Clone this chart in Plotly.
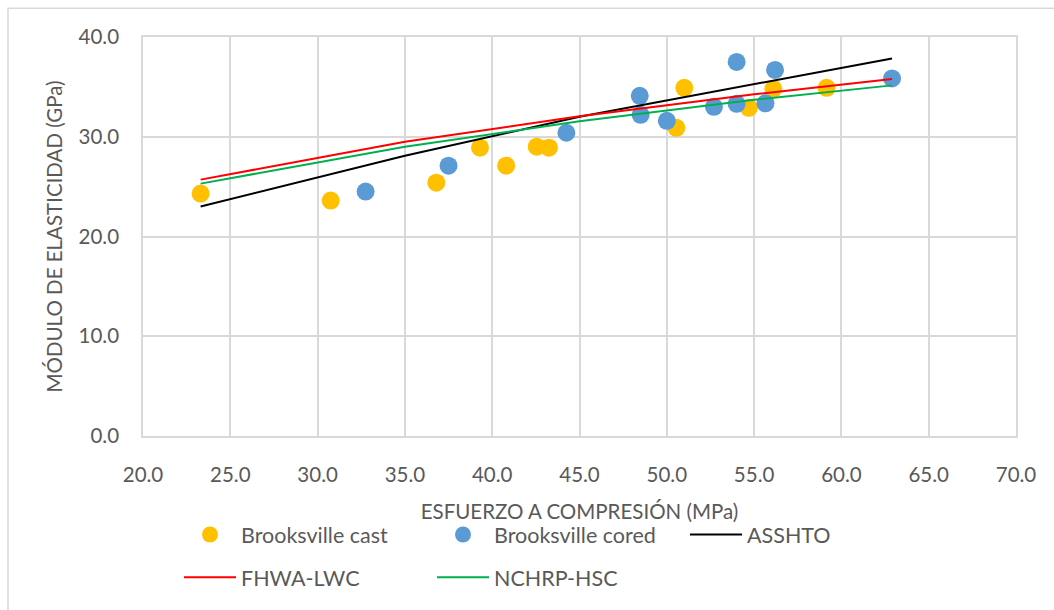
import plotly.graph_objects as go

# Measured points: compressive strength (MPa) vs modulus of elasticity (GPa)
cast_fc = [23.3, 30.75, 36.8, 39.3, 40.8, 42.55, 43.25, 50.55, 51.0, 54.7, 56.1, 59.15]
cast_ec = [24.3, 23.6, 25.4, 28.9, 27.1, 29.0, 28.9, 30.9, 34.9, 32.9, 34.8, 34.9]

cored_fc = [32.75, 37.5, 44.25, 48.45, 48.5, 50.0, 52.7, 54.0, 54.0, 55.65, 56.2, 62.9]
cored_ec = [24.5, 27.1, 30.4, 34.1, 32.2, 31.6, 33.0, 37.5, 33.3, 33.35, 36.7, 35.85]

# Prediction curves
model_fc = [23.3, 35.0, 45.0, 55.0, 62.9]
asshto_ec = [23.0, 28.1, 32.0, 35.3, 37.85]
fhwa_ec = [25.7, 29.5, 32.05, 34.25, 35.8]
nchrp_ec = [25.3, 29.0, 31.55, 33.7, 35.15]

x_ticks = [20, 25, 30, 35, 40, 45, 50, 55, 60, 65, 70]
y_ticks = [0, 10, 20, 30, 40]

FONT = "Lato"
TXT = "#595959"
GRID = "#D9D9D9"

fig = go.Figure()

fig.add_trace(go.Scatter(
    x=cast_fc, y=cast_ec, mode="markers", name="Brooksville cast",
    marker=dict(size=18, color="#FFC000", line=dict(width=0)),
    legend="legend",
))
fig.add_trace(go.Scatter(
    x=cored_fc, y=cored_ec, mode="markers", name="Brooksville cored",
    marker=dict(size=18, color="#5B9BD5", line=dict(width=0)),
    legend="legend",
))
fig.add_trace(go.Scatter(
    x=model_fc, y=asshto_ec, mode="lines", name="ASSHTO",
    line=dict(color="#000000", width=2), legend="legend",
))
fig.add_trace(go.Scatter(
    x=model_fc, y=fhwa_ec, mode="lines", name="FHWA-LWC",
    line=dict(color="#FF0000", width=2), legend="legend2",
))
fig.add_trace(go.Scatter(
    x=model_fc, y=nchrp_ec, mode="lines", name="NCHRP-HSC",
    line=dict(color="#00B050", width=2), legend="legend2",
))

L, R, T, B = 143, 38, 37, 172
W, H = 1054, 610
pw, ph = W - L - R, H - T - B


def px_x(p):
    return (p - L) / pw


def px_y(p):
    return (H - B - p) / ph


legend_common = dict(
    orientation="h", xanchor="left", yanchor="middle",
    font=dict(family=FONT, size=21.5, color=TXT),
    bgcolor="rgba(0,0,0,0)", itemwidth=52,
    entrywidth=186, entrywidthmode="pixels",
)

fig.update_layout(
    width=W, height=H,
    margin=dict(l=L, r=R, t=T, b=B),
    paper_bgcolor="white", plot_bgcolor="white",
    font=dict(family=FONT, size=20, color=TXT),
    legend=dict(x=px_x(179), y=px_y(537), **legend_common),
    legend2=dict(x=px_x(179), y=px_y(580), **legend_common),
    xaxis=dict(
        range=[20, 70], tickvals=x_ticks, tickformat=".1f",
        showgrid=True, gridcolor=GRID, gridwidth=1.6,
        showline=True, linecolor=GRID, linewidth=1.6, mirror=True,
        zeroline=False, ticks="", ticklabelstandoff=20,
        tickfont=dict(family=FONT, size=20.5, color=TXT),
        title=dict(text="ESFUERZO A COMPRESIÓN (MPa)", standoff=19,
                   font=dict(family=FONT, size=20.5, color=TXT)),
        automargin=True,
    ),
    yaxis=dict(
        range=[0, 40], tickvals=y_ticks, tickformat=".1f",
        showgrid=True, gridcolor=GRID, gridwidth=1.6,
        showline=True, linecolor=GRID, linewidth=1.6, mirror=True,
        zeroline=False, ticks="", ticklabelstandoff=18,
        tickfont=dict(family=FONT, size=20.5, color=TXT),
        title=dict(text="MÓDULO DE ELASTICIDAD (GPa)", standoff=10,
                   font=dict(family=FONT, size=20.5, color=TXT)),
        automargin=True,
    ),
    shapes=[dict(
        type="rect", xref="paper", yref="paper",
        x0=px_x(8), x1=px_x(1100), y0=px_y(700), y1=px_y(8),
        line=dict(color=GRID, width=1.5), fillcolor="rgba(0,0,0,0)",
        layer="below",
    )],
)

fig.write_html("out.html")
